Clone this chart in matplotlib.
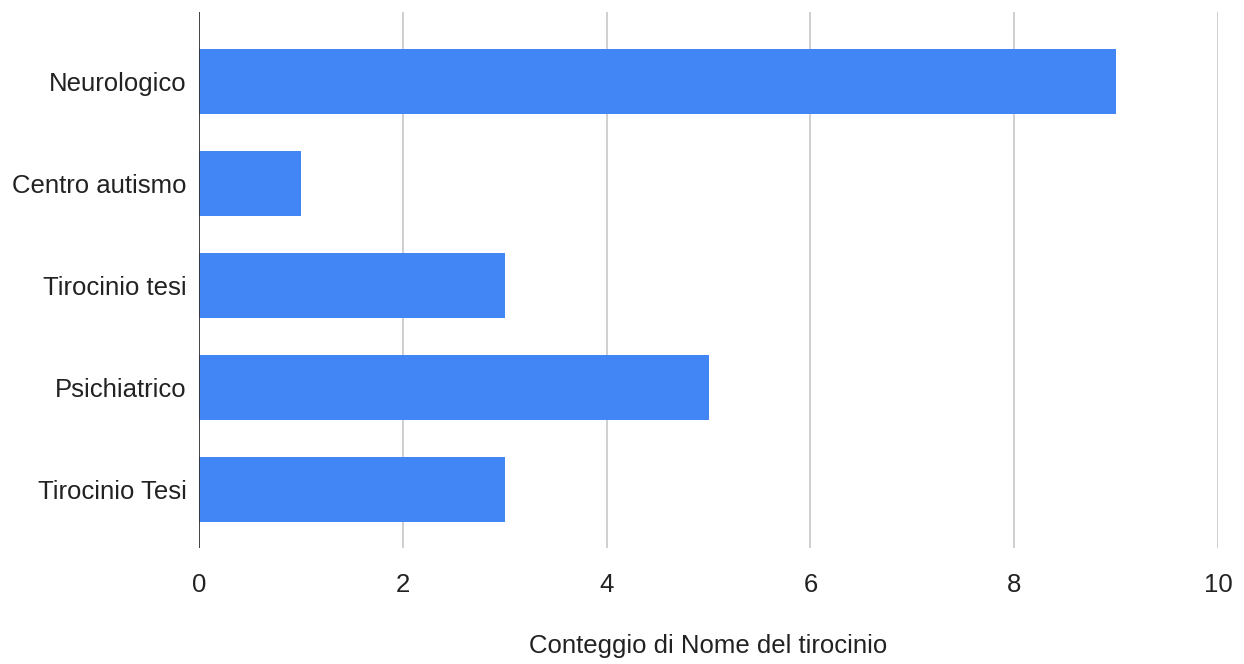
import matplotlib.pyplot as plt
import numpy as np

# dati
categorie = ['Neurologico', 'Centro autismo', 'Tirocinio tesi', 'Psichiatrico', 'Tirocinio Tesi']
conteggi = [9, 1, 3, 5, 3]
xticks = [0, 2, 4, 6, 8, 10]

plt.rcParams['font.family'] = ['Liberation Sans', 'DejaVu Sans']

fig = plt.figure(figsize=(12.44, 6.64), dpi=100)
ax = fig.add_axes([199/1244, 1 - 548/664, (1218 - 199)/1244, (548 - 12)/664])

pos = np.arange(len(categorie))
ax.barh(pos, conteggi, height=0.64, color='#4285f4', zorder=3)
ax.set_ylim(4.578, -0.686)
ax.set_xlim(0, 10)
ax.set_yticks(pos)
ax.set_yticklabels(categorie, fontsize=18.5, color='#222222')
ax.set_xticks(xticks)
ax.set_xticklabels([str(t) for t in xticks], fontsize=18.5, color='#222222')
ax.tick_params(axis='y', length=0, pad=9)
ax.tick_params(axis='x', length=0, pad=18)

for t in xticks[1:]:
    ax.axvline(t, color='#cccccc', linewidth=1.3, zorder=1)
ax.axvline(0, color='#333333', linewidth=1.3, zorder=4)

for s in ax.spines.values():
    s.set_visible(False)

ax.set_xlabel('Conteggio di Nome del tirocinio', fontsize=18.5, color='#222222', labelpad=27)

plt.savefig('out.png', dpi=100)
plt.close(fig)
